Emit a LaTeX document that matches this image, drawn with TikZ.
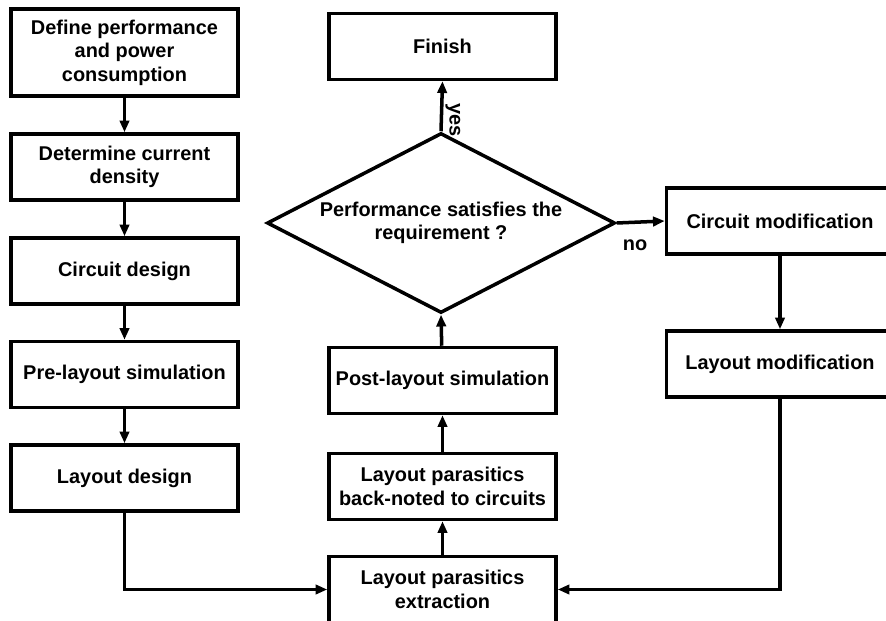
\documentclass[tikz,border=0pt]{standalone}
\usepackage{fontspec}
\setmainfont{Liberation Sans}
\usetikzlibrary{arrows.meta,shapes.geometric}

\begin{document}
\begin{tikzpicture}[x=0.03cm,y=-0.03cm,
    font=\fontsize{17}{20}\selectfont\bfseries,
    box/.style={draw, line width=3pt, minimum width=6.81cm, minimum height=1.98cm, align=center, inner sep=2pt},
    decision/.style={draw, diamond, line width=3pt, aspect=1.93, minimum width=10.44cm, minimum height=5.4cm, align=center, inner sep=0pt},
    flow/.style={line width=3pt, -{Triangle[length=10pt,width=8pt]}}]
      \path[use as bounding box, clip] (0,0) rectangle (886,621);

      % Design steps
      \node[box, minimum height=2.61cm] (define) at (124.5,52.5) {Define performance\\and power\\consumption};
      \node[box] (density) at (124.5,167) {Determine current\\density};
      \node[box] (circuit) at (124.5,271) {Circuit design};
      \node[box] (prelayout) at (124.5,374.5) {Pre-layout simulation};
      \node[box] (layout) at (124.5,478) {Layout design};

      % Verification loop
      \node[box] (finish) at (442.5,46.5) {Finish};
      \node[decision] (check) at (441,223) {Performance satisfies the\\requirement ?};
      \node[box] (postlayout) at (442.5,380.5) {Post-layout simulation};
      \node[box] (backnote) at (442.5,486.5) {Layout parasitics\\back-noted to circuits};
      \node[box] (extract) at (442.5,589.5) {Layout parasitics\\extraction};

      % Modifications
      \node[box] (cirmod) at (780,221) {Circuit modification};
      \node[box] (laymod) at (780,364) {Layout modification};

      % Arrows
      \draw[flow] (define) -- (density);
      \draw[flow] (density) -- (circuit);
      \draw[flow] (circuit) -- (prelayout);
      \draw[flow] (prelayout) -- (layout);
      \draw[flow] (layout.south) |- (extract.west);
      \draw[flow] (extract) -- (backnote);
      \draw[flow] (backnote) -- (postlayout);
      \draw[flow] (postlayout) -- (check.south);
      \draw[flow] (check.north) -- node[pos=0.22, rotate=-90, anchor=south, inner sep=2pt] {yes} (finish.south);
      \draw[flow] (check.east) -- node[pos=0.38, below=10pt] {no} (cirmod.west);
      \draw[flow] (cirmod) -- (laymod);
      \draw[flow] (laymod.south) |- (extract.east);
    \end{tikzpicture}
\end{document}
